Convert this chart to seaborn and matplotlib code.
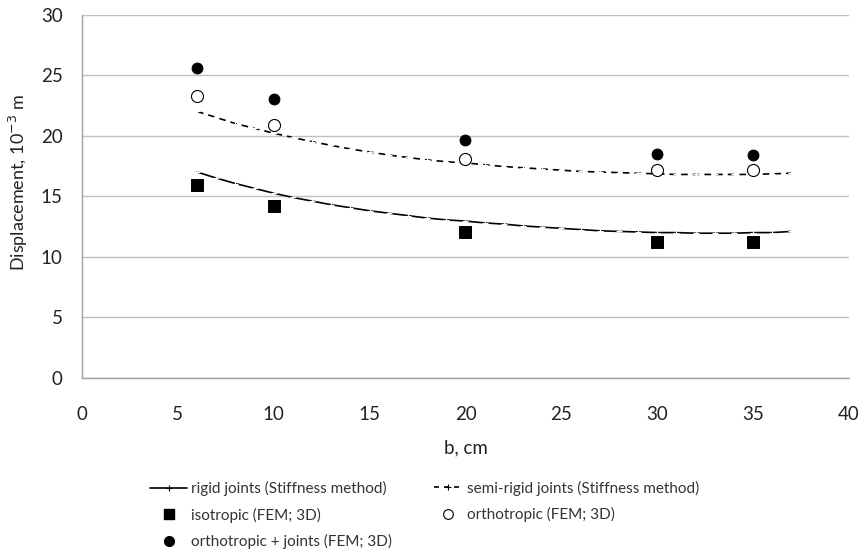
import matplotlib
matplotlib.use("Agg")
import matplotlib.pyplot as plt
import seaborn as sns
import pandas as pd
from matplotlib.lines import Line2D

sns.set_style("white")
plt.rcParams['font.family'] = ['Lato', 'DejaVu Sans']

# data
b_fem = [6, 10, 20, 30, 35]
isotropic = [15.95, 14.2, 12.05, 11.2, 11.2]
orthotropic = [23.3, 20.9, 18.1, 17.15, 17.15]
ortho_joints = [25.6, 23.0, 19.65, 18.5, 18.4]

b_line = list(range(6, 38))
rigid = [17.0, 16.5, 16.05, 15.65, 15.25, 14.9, 14.6, 14.3, 14.05, 13.8, 13.6,
         13.4, 13.2, 13.05, 12.95, 12.8, 12.7, 12.55, 12.45, 12.35, 12.25, 12.15,
         12.1, 12.05, 12.0, 12.0, 11.95, 11.95, 11.95, 12.0, 12.0, 12.1]
semi = [22.0, 21.5, 21.0, 20.6, 20.2, 19.85, 19.5, 19.2, 18.9, 18.65, 18.4,
        18.2, 18.0, 17.85, 17.75, 17.6, 17.45, 17.35, 17.25, 17.15, 17.05, 17.0,
        16.95, 16.9, 16.85, 16.8, 16.8, 16.8, 16.8, 16.8, 16.85, 16.9]

labels = ["rigid joints (Stiffness method)", "semi-rigid joints (Stiffness method)",
          "isotropic (FEM; 3D)", "orthotropic (FEM; 3D)",
          "orthotropic + joints (FEM; 3D)"]

df_line = pd.DataFrame({"b": b_line, "rigid": rigid, "semi": semi})
df_fem = pd.DataFrame({"b": b_fem, "iso": isotropic, "ortho": orthotropic, "oj": ortho_joints})

W, H = 862, 553
fig = plt.figure(figsize=(W / 100, H / 100), dpi=100)
L, R, T, B = 82, 849, 14.5, 378
ax = fig.add_axes([L / W, 1 - B / H, (R - L) / W, (B - T) / H])

sns.lineplot(data=df_line, x="b", y="rigid", ax=ax, color="black", lw=1.2,
             marker="+", markersize=5, markeredgewidth=0.8)
sns.lineplot(data=df_line, x="b", y="semi", ax=ax, color="black", lw=1.2,
             linestyle=(0, (4, 3)), marker="+", markersize=5, markeredgewidth=0.8)
sns.scatterplot(data=df_fem, x="b", y="iso", ax=ax, marker="s", s=75, color="black",
                edgecolor="black", zorder=3)
sns.scatterplot(data=df_fem, x="b", y="ortho", ax=ax, marker="o", s=75, facecolor="white",
                edgecolor="black", linewidth=0.8, zorder=3)
sns.scatterplot(data=df_fem, x="b", y="oj", ax=ax, marker="o", s=62, color="black",
                edgecolor="black", zorder=3)

ax.set_xlim(0, 40)
ax.set_ylim(0, 30)
ax.set_xticks(range(0, 41, 5))
ax.set_yticks(range(0, 31, 5))
ax.tick_params(axis="both", labelsize=13.5, length=0, labelcolor="#222222")
ax.tick_params(axis="x", pad=20)
ax.tick_params(axis="y", pad=14)
ax.yaxis.grid(True, color="#c0c0c0", lw=1)
ax.xaxis.grid(False)
for s in ["top", "right"]:
    ax.spines[s].set_visible(False)
for s in ["left", "bottom"]:
    ax.spines[s].set_color("#a0a0a0")
    ax.spines[s].set_linewidth(1)
ax.set_xlabel("b, cm", fontsize=13.5, color="#222222")
ax.set_ylabel("Displacement, 10$^{-3}$ m", fontsize=13, color="#222222")
ax.xaxis.set_label_coords(0.5, (B - 448) / (B - T), transform=ax.transAxes)
ax.yaxis.set_label_coords((18 - L) / (R - L), (B - 182) / (B - T), transform=ax.transAxes)
ax.xaxis.label.set_va("center")
ax.yaxis.label.set_va("center")

h_rigid = Line2D([], [], color="black", lw=1.2, marker="+", markersize=5, markeredgewidth=0.8)
h_semi = Line2D([], [], color="black", lw=1.2, linestyle=(0, (3, 3)), marker="+",
                markersize=5, markeredgewidth=0.8)
h_iso = Line2D([], [], color="black", lw=0, marker="s", markersize=7)
h_ortho = Line2D([], [], color="black", lw=0, marker="o", markersize=7,
                 markerfacecolor="white", markeredgewidth=0.8)
h_oj = Line2D([], [], color="black", lw=0, marker="o", markersize=7)

common = dict(loc="center left", frameon=False, fontsize=11,
              labelspacing=0.75, borderpad=0, borderaxespad=0)
leg1 = fig.legend([h_rigid, h_iso, h_oj], [labels[0], labels[2], labels[4]],
                  bbox_to_anchor=(150 / W, 1 - 515 / H), handlelength=2.45,
                  handletextpad=0.25, **common)
leg2 = fig.legend([h_semi, h_ortho], [labels[1], labels[3]],
                  bbox_to_anchor=(434 / W, 1 - 501.5 / H), handlelength=1.85,
                  handletextpad=0.33, **common)
for lg in (leg1, leg2):
    for t in lg.get_texts():
        t.set_color("#333333")

fig.savefig("out.png", dpi=100)
